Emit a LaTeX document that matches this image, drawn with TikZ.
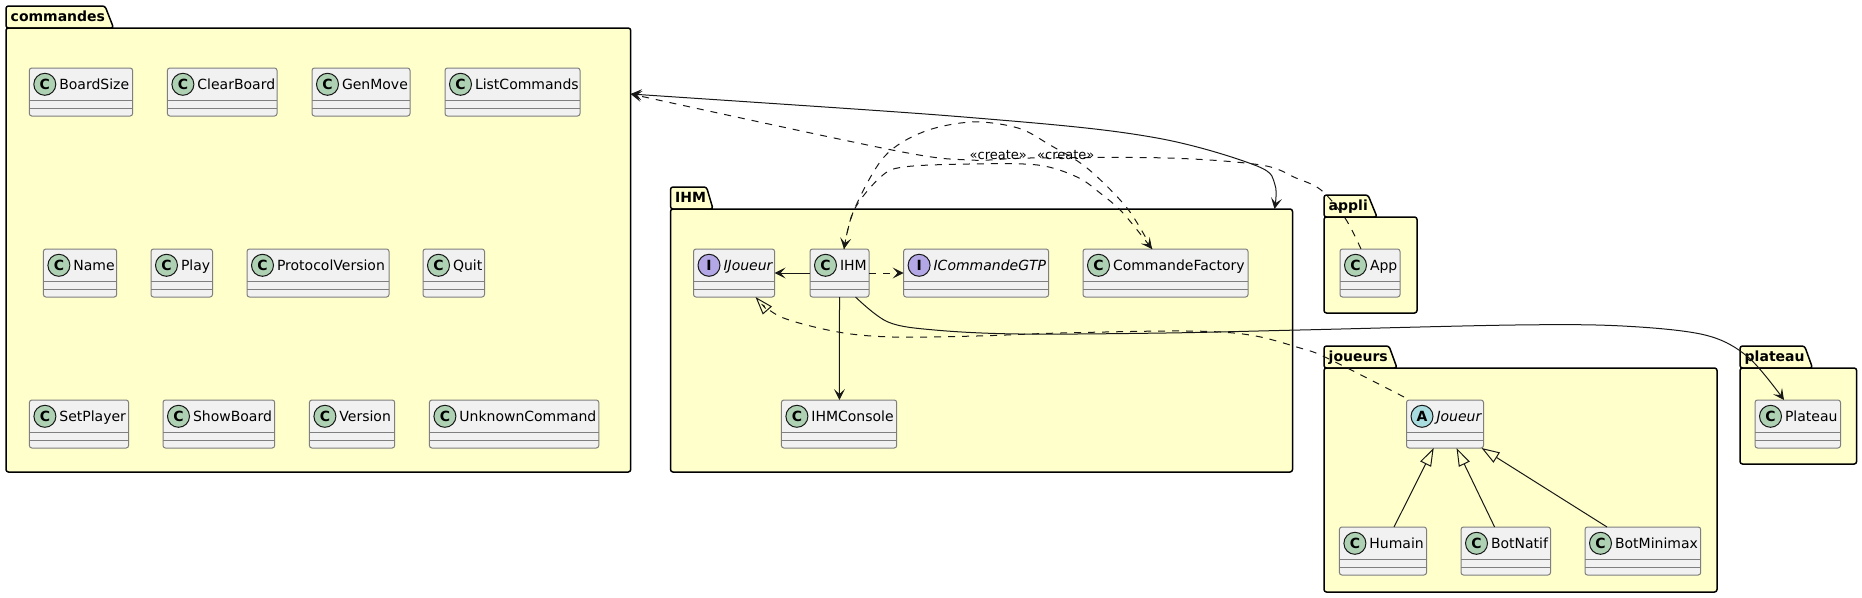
\documentclass[tikz,border=0pt]{standalone}
\usepackage{fontspec}
\setmainfont{DejaVu Sans}
\usetikzlibrary{arrows.meta,calc}
\definecolor{pkgfill}{HTML}{FFFFCC}
\definecolor{clsfill}{HTML}{F1F1F1}
\definecolor{clsline}{HTML}{7F7F7F}
\definecolor{ink}{HTML}{181818}
\definecolor{spotC}{HTML}{ADD1B2}
\definecolor{spotA}{HTML}{A9DCDF}
\definecolor{spotI}{HTML}{B4A7E5}
\tikzset{
  classbox/.style={draw=clsline,line width=1pt,fill=clsfill,rounded corners=2.5pt,inner sep=0pt,outer sep=0pt,minimum height=48pt},
  classrule/.style={draw=clsline,line width=1pt},
  spot/.style={circle,draw=ink,line width=1pt,minimum size=22pt,inner sep=0pt,font=\fontsize{14}{14}\selectfont\bfseries},
  classname/.style={anchor=base west,inner sep=0pt,text=black,font=\fontsize{14}{14}\selectfont},
  pkgbody/.style={draw=black,line width=1.5pt,fill=pkgfill,rounded corners=2.5pt,inner sep=0pt,outer sep=0pt},
  pkgtab/.style={draw=black,line width=1.5pt,fill=pkgfill,rounded corners=2.5pt},
  pkgname/.style={anchor=base west,inner sep=0pt,text=black,font=\fontsize{14}{14}\selectfont\bfseries},
  link/.style={draw=ink,line width=1pt},
  dep/.style={link,dash pattern=on 7pt off 7pt},
  open tip/.tip={Stealth[length=11pt,width=11pt,inset=5pt,color=ink]},
  hollow tip/.tip={Triangle[open,length=18pt,width=12pt,color=ink,line width=1pt]},
  stereo/.style={anchor=base west,inner sep=0pt,text=black,font=\fontsize{13}{13}\selectfont},
  curve/.style={smooth,tension=0.55},
}
\newcommand{\umlpkg}[9]{% id,x0,x1,ytop,ybody,ybot,slope,tabright,name
  \draw[pkgtab] (#2,#5) -- (#2,#4) -- (#7,#4) -- (#8,#5) -- cycle;
  \node[pkgbody,minimum width={#3-#2},minimum height={#6-#5}] (#1) at ({(#2+#3)/2},{(#5+#6)/2}) {};
  \node[pkgname] (#1-name) at ({#2+4.5},{#4+15}) {#9};
}
\newcommand{\umlcls}[7]{% id,x0,x1,y0,letter,colour,text
  \node[classbox,minimum width={#3-#2}] (#1) at ({(#2+#3)/2},{#4+24}) {};
  \draw[classrule] ([yshift=-32pt]#1.north west) -- ([yshift=-32pt]#1.north east);
  \draw[classrule] ([yshift=-40pt]#1.north west) -- ([yshift=-40pt]#1.north east);
  \node[spot,fill=#6] (#1-spot) at ([xshift=15.5pt,yshift=-16.3pt]#1.north west) {#5};
  \node[classname] (#1-name) at ([xshift=29.8pt,yshift=-21pt]#1.north west) {#7};
}
\begin{document}
\begin{tikzpicture}[x=1pt,y=-1pt]
\useasboundingbox (0,0) rectangle (1862,597);
% packages
\umlpkg{commandes}{6}{630.7}{6}{28}{472}{105}{113.6}{commandes}
\umlpkg{ihmpkg}{670.5}{1292.5}{187}{209}{472}{706.5}{713}{IHM}
\umlpkg{appli}{1324}{1417}{195}{217}{313}{1368}{1377}{appli}
\umlpkg{joueurs}{1324}{1717}{346}{368}{592}{1389}{1397}{joueurs}
\umlpkg{plateau}{1740}{1856.6}{346}{368}{464}{1804.6}{1812.5}{plateau}
% classes: commandes
\umlcls{boardsize}{29.3}{132.6}{68}{C}{spotC}{BoardSize}
\umlcls{clearboard}{167.4}{277}{68}{C}{spotC}{ClearBoard}
\umlcls{genmove}{312}{410}{68}{C}{spotC}{GenMove}
\umlcls{listcommands}{445}{580}{68}{C}{spotC}{ListCommands}
\umlcls{name}{43.4}{116.7}{249}{C}{spotC}{Name}
\umlcls{play}{151}{212.5}{249}{C}{spotC}{Play}
\umlcls{protocolversion}{247}{389}{249}{C}{spotC}{ProtocolVersion}
\umlcls{quit}{423}{484.5}{249}{C}{spotC}{Quit}
\umlcls{setplayer}{29.4}{128.6}{400}{C}{spotC}{SetPlayer}
\umlcls{showboard}{163}{274.7}{400}{C}{spotC}{ShowBoard}
\umlcls{version}{309.4}{394.7}{400}{C}{spotC}{Version}
\umlcls{unknowncommand}{429.4}{598.8}{400}{C}{spotC}{UnknownCommand}
% classes: IHM
\umlcls{ijoueur}{693.5}{774.6}{249}{I}{spotI}{\itshape IJoueur}
\umlcls{ihm}{810}{869}{249}{C}{spotC}{IHM}
\umlcls{icommandegtp}{903.6}{1048.6}{249}{I}{spotI}{\itshape ICommandeGTP}
\umlcls{commandefactory}{1083}{1248}{249}{C}{spotC}{CommandeFactory}
\umlcls{ihmconsole}{781.4}{896.7}{400}{C}{spotC}{IHMConsole}
% others
\umlcls{app}{1340}{1400}{249}{C}{spotC}{App}
\umlcls{joueur}{1406.5}{1483.5}{400}{A}{spotA}{\itshape Joueur}
\umlcls{humain}{1339.4}{1426.5}{527}{C}{spotC}{Humain}
\umlcls{botnatif}{1461}{1550.5}{527}{C}{spotC}{BotNatif}
\umlcls{botminimax}{1585}{1700.7}{527}{C}{spotC}{BotMinimax}
\umlcls{plateauc}{1755}{1840.5}{400}{C}{spotC}{Plateau}
% connector ends
\coordinate (cmdport) at ([yshift=-66pt]commandes.north east);
\coordinate (ihmpkgport) at ([xshift=-18pt]ihmpkg.north east);
\coordinate (ihmtop) at ([xshift=34pt]ihm.north west);
\coordinate (cftop) at ([xshift=69pt]commandefactory.north west);
\coordinate (apptop) at ([xshift=21pt]app.north west);
\coordinate (ihmright) at ([xshift=45.5pt]ihm.south west);
\coordinate (platop) at ([xshift=29pt]plateauc.north west);
\coordinate (joueurnw) at ([xshift=-2.5pt,yshift=3pt]joueur.north west);
\coordinate (ijsouth) at ([xshift=62pt]ijoueur.south west);
% connectors
\draw[link,open tip-open tip] plot[curve] coordinates {(cmdport) (1000,120) (1157,138) (1257,166) (1275,185) (ihmpkgport)};
\draw[dep,-open tip] plot[curve] coordinates {(apptop) (1345,218) (1321,190) (1296,178) (1261,165) (1168,158) (1030,158) (969,160) (892,150) (cmdport)};
\draw[dep,-open tip] plot[curve] coordinates {(cftop) (1127,208) (1087,168) (1050,145) (1018,128) (972,122) (923,132) (884,157) (854,210) (ihmtop)};
\draw[dep,-open tip] plot[curve] coordinates {(ihmtop) (854,210) (880.6,177) (903.6,167) (969,164) (1037.5,165) (1077,177) (1100,193) (1123,213) (cftop)};
\draw[link,-open tip] ([yshift=-24pt]ihm.north west) -- ([yshift=-24pt]ijoueur.north east);
\draw[dep,-open tip] ([yshift=-24pt]ihm.north east) -- ([yshift=-24pt]icommandegtp.north west);
\draw[link,-open tip] ([xshift=29.5pt]ihm.south west) -- ([xshift=58pt]ihmconsole.north west);
\draw[link,-open tip] plot[curve] coordinates {(ihmright) (888,322) (934.6,330) (1019,334) (1166,333) (1300,330) (1515,325) (1622.6,326) (1705,335) (1748,357) (platop)};
\draw[dep,-hollow tip] plot[curve] coordinates {(joueurnw) (1327,358) (1300,348) (1250,335) (1187,331) (1061,333) (977,336) (892.5,337) (838,332) (781,317) (ijsouth)};
\draw[link,-hollow tip] ([xshift=54.6pt]humain.north west) -- ([xshift=27.2pt]joueur.south west);
\draw[link,-hollow tip] ([xshift=33.6pt]botnatif.north west) -- ([xshift=50pt]joueur.south west);
\draw[link,-hollow tip] ([xshift=22pt]botminimax.north west) -- ([xshift=75pt]joueur.south west);
% labels
\node[stereo] (create1) at (969.5,159) {«create»};
\node[stereo] (create2) at (1037,159) {«create»};
\end{tikzpicture}
\end{document}
